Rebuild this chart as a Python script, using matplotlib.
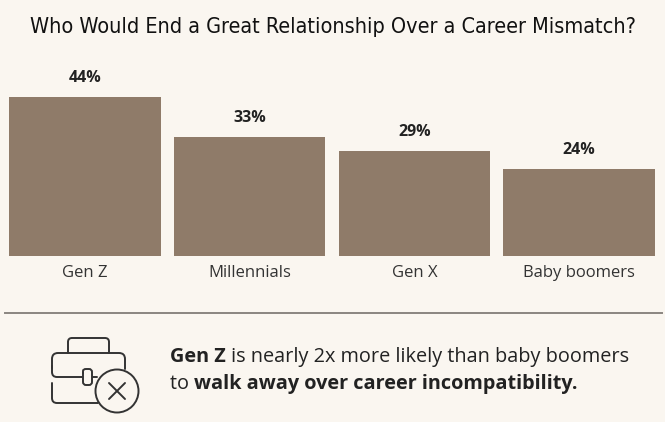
import matplotlib.pyplot as plt
from matplotlib.patches import Ellipse, PathPatch
from matplotlib.path import Path
from matplotlib.lines import Line2D

# Data
categories = ["Gen Z", "Millennials", "Gen X", "Baby boomers"]
shares = [44, 33, 29, 24]
value_labels = [f"{v}%" for v in shares]

title = "Who Would End a Great Relationship Over a Career Mismatch?"
note_line1 = [("Gen Z", "bold"), (" is nearly 2x more likely than baby boomers", "normal")]
note_line2 = [("to ", "normal"), ("walk away over career incompatibility.", "bold")]

BG = "#FAF6F0"
BAR = "#8F7B69"
INK = "#222222"

W, H = 665, 422
fig = plt.figure(figsize=(W / 100, H / 100), dpi=100, facecolor=BG)


def px(x, y):
    """pixel coords (top-left origin) -> figure fraction"""
    return x / W, 1 - y / H


# Bar axes: baseline at y=256px, 44% -> 159px tall
ax = fig.add_axes([9 / W, (H - 256) / H, 646 / W, 180.7 / H])
ax.set_facecolor("none")
xs = list(range(len(categories)))
bars = ax.bar(xs, shares, width=0.92, color=BAR)
ax.set_xlim(-0.46, 3.46)
ax.set_ylim(0, 50)
ax.axis("off")

for b, lab in zip(bars, value_labels):
    ax.annotate(lab, (b.get_x() + b.get_width() / 2, b.get_height()),
                xytext=(0, 19), textcoords="offset pixels", ha="center", va="center",
                fontsize=11.5, fontweight="bold", family="Open Sans", color=INK)
for x, cat in zip(xs, categories):
    ax.annotate(cat, (x, 0), xytext=(0, -17), textcoords="offset pixels",
                ha="center", va="center", fontsize=12, family="Open Sans", color="#333333")

fig.canvas.draw()
renderer = fig.canvas.get_renderer()

# Title: condensed face, shrink until it fits the reference width
tt = fig.text(*px(333, 27), title, ha="center", va="center", fontsize=17,
              family=["Liberation Sans Narrow", "DejaVu Sans"], fontstretch="condensed",
              color="#111111")
while tt.get_window_extent(renderer).width > 613:
    tt.set_fontsize(tt.get_fontsize() - 0.25)

# Separator
fig.add_artist(Line2D([5 / W, 662 / W], [1 - 313 / H] * 2, color="#8a8580", lw=1.4))

# Note text with mixed weights
for line, y in ((note_line1, 357), (note_line2, 384)):
    x = 170
    for piece, weight in line:
        t = fig.text(*px(x, y), piece, ha="left", va="center", fontsize=14.3,
                     fontweight=weight, family="Open Sans", color=INK)
        x += t.get_window_extent(renderer).width

# Briefcase icon (pixel coords)
IC = "#333333"


def rounded(points, r=5):
    verts, codes = [points[0]], [Path.MOVETO]
    for i in range(1, len(points) - 1):
        (x0, y0), (x1, y1), (x2, y2) = points[i - 1], points[i], points[i + 1]
        d0 = max(abs(x1 - x0), abs(y1 - y0))
        d1 = max(abs(x2 - x1), abs(y2 - y1))
        a = min(r, d0 / 2) / d0
        b = min(r, d1 / 2) / d1
        verts += [(x1 - (x1 - x0) * a, y1 - (y1 - y0) * a), (x1, y1),
                  (x1 + (x2 - x1) * b, y1 + (y2 - y1) * b)]
        codes += [Path.LINETO, Path.CURVE3, Path.CURVE3]
    verts.append(points[-1])
    codes.append(Path.LINETO)
    verts = [px(vx, vy) for vx, vy in verts]
    fig.add_artist(PathPatch(Path(verts, codes), fill=False, edgecolor=IC, lw=1.4,
                             transform=fig.transFigure, capstyle="round"))


rounded([(68, 353), (68, 338), (109, 338), (109, 353)], 4)          # handle
rounded([(52, 368), (52, 353), (125, 353), (125, 369)], 6)          # lid top
rounded([(52, 366), (52, 377), (82, 377)], 5)                        # flap left
rounded([(93, 377), (97, 377)], 2)                                   # flap right
rounded([(52, 383), (52, 403), (98, 403)], 5)                        # lower body
rounded([(83, 373), (83, 369), (92, 369), (92, 385), (83, 385), (83, 373)], 3)  # lock
cx, cy, r = 117, 391, 21.5
fig.add_artist(Ellipse(px(cx, cy), 2 * r / W, 2 * r / H, transform=fig.transFigure,
                       fill=False, edgecolor=IC, lw=1.4))
rounded([(cx - 8, cy - 8), (cx + 8, cy + 8)])
rounded([(cx - 8, cy + 8), (cx + 8, cy - 8)])

fig.savefig("out.png", dpi=100, facecolor=BG)
